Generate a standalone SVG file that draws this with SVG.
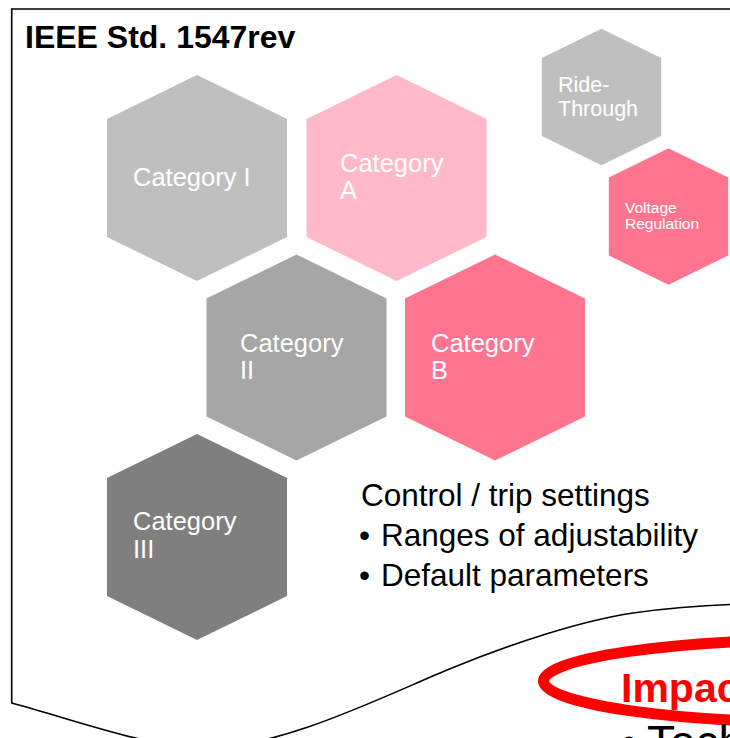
<svg xmlns="http://www.w3.org/2000/svg" xmlns:xlink="http://www.w3.org/1999/xlink" width="730" height="738" viewBox="0 0 730 738">
  <style>
    .lbl { font-family: "Liberation Sans", Arial, sans-serif; fill: #FFFFFF; }
    .big { font-size: 25.5px; }
    .txt { font-family: "Liberation Sans", Arial, sans-serif; fill: #000000; }
    .frame { fill: none; stroke: #000000; stroke-width: 1.6; }
  </style>
  <defs>
    <!-- pointy-top hexagon, centred on the origin -->
    <path id="hex" d="M0,-103 L90,-59 L90,59 L0,103 L-90,59 L-90,-59 Z"/>
  </defs>

  <rect width="730" height="738" fill="#FFFFFF"/>

  <!-- outer wavy-bottom frame -->
  <g id="frame">
    <path class="frame" d="M760,9 L11.7,9 L11.7,703 C75,720 150,748 205,748 C280,748 380,698 447,670 C510,644 580,621 633,613 C665,608.5 700,605.5 730,604.5 L760,603"/>
  </g>

  <text class="txt" x="25" y="48" font-size="32" font-weight="bold">IEEE Std. 1547rev</text>

  <g id="cat-i">
    <use xlink:href="#hex" transform="translate(197,178)" fill="#BFBFBF"/>
    <text class="lbl big" x="133" y="186">Category I</text>
  </g>

  <g id="cat-a">
    <use xlink:href="#hex" transform="translate(396.5,178)" fill="#FFB9C8"/>
    <text class="lbl big"><tspan x="340" y="172">Category</tspan><tspan x="340" y="199">A</tspan></text>
  </g>

  <g id="cat-ii">
    <use xlink:href="#hex" transform="translate(296.5,357.5)" fill="#A6A6A6"/>
    <text class="lbl big"><tspan x="240" y="352">Category</tspan><tspan x="240" y="379">II</tspan></text>
  </g>

  <g id="cat-b">
    <use xlink:href="#hex" transform="translate(495,357.5)" fill="#FF7590"/>
    <text class="lbl big"><tspan x="431" y="352">Category</tspan><tspan x="431" y="379">B</tspan></text>
  </g>

  <g id="cat-iii">
    <use xlink:href="#hex" transform="translate(197,537)" fill="#7F7F7F"/>
    <text class="lbl big"><tspan x="133" y="530">Category</tspan><tspan x="133" y="558">III</tspan></text>
  </g>

  <g id="ride-through">
    <use xlink:href="#hex" transform="translate(601.5,97) scale(0.663)" fill="#BFBFBF"/>
    <text class="lbl" font-size="21.5"><tspan x="558" y="92">Ride-</tspan><tspan x="558" y="116">Through</tspan></text>
  </g>

  <g id="voltage-regulation">
    <use xlink:href="#hex" transform="translate(668.5,216.5) scale(0.663)" fill="#FF7590"/>
    <text class="lbl" font-size="15.5"><tspan x="625" y="213">Voltage</tspan><tspan x="625" y="229">Regulation</tspan></text>
  </g>

  <g id="settings">
    <text class="txt" font-size="31.5"><tspan x="361" y="506">Control / trip settings</tspan></text>
    <text class="txt" font-size="31.5"><tspan x="359" y="546">•</tspan><tspan x="381" y="546">Ranges of adjustability</tspan></text>
    <text class="txt" font-size="31.5"><tspan x="359" y="586">•</tspan><tspan x="381" y="586">Default parameters</tspan></text>
  </g>

  <g id="impact">
    <ellipse cx="831" cy="681" rx="287.5" ry="41.5" fill="none" stroke="#FF0000" stroke-width="11"/>
    <text x="621" y="702" font-family="'Liberation Sans', Arial, sans-serif" font-size="41" font-weight="bold" fill="#FF0000">Impac</text>
    <text class="txt" font-size="46"><tspan x="621" y="758">•</tspan><tspan x="647" y="758">Tech</tspan></text>
  </g>
</svg>
